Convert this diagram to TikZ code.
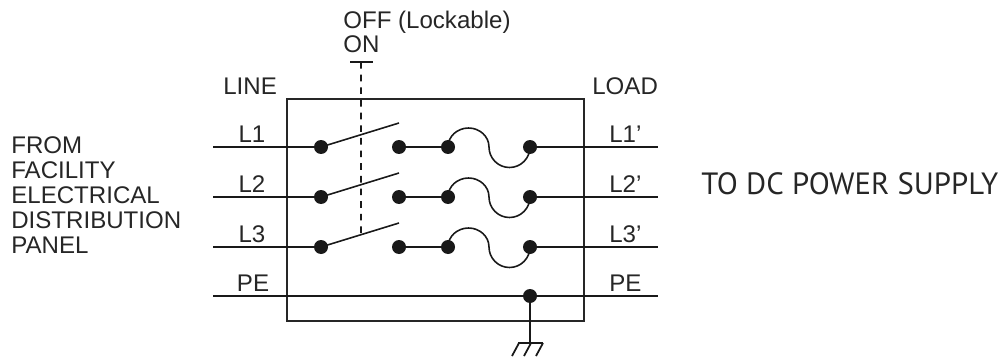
\documentclass[tikz,border=0pt]{standalone}
\usepackage{fontspec}
\setmainfont{Liberation Sans}
\newfontfamily\ptsans{PT Sans}
\usetikzlibrary{calc}
\begin{document}
\begin{tikzpicture}[x=0.02cm,y=0.02cm,
  lbl/.style={font=\fontsize{13.7}{16}\selectfont, inner sep=0pt, text=black!85},
  wire/.style={line width=1.1pt, black!90},
  thin/.style={line width=0.6pt, black!85},
  blade/.style={line width=0.9pt, black!90},
  dot/.style={circle, fill=black!90, inner sep=0pt, minimum size=0.28cm},
  lock/.style={line width=0.9pt, black!90, dash pattern=on 3.8pt off 3.4pt}]
\useasboundingbox (0,0) rectangle (1000,359);
% enclosure
\draw[thin] (287,38) rectangle (584,260);
% header labels
\node[lbl, anchor=base west] (off) at (343,330) {OFF (Lockable)};
\node[lbl, anchor=base west] (on) at (343,306) {ON};
\node[lbl, anchor=base west] (line) at (223,265) {LINE};
\node[lbl, anchor=base west] (load) at (592,265) {LOAD};
% left description
\node[lbl, anchor=base west] (t1) at (11,206) {FROM};
\node[lbl, anchor=base west] (t2) at (11,181) {FACILITY};
\node[lbl, anchor=base west] (t3) at (11,156) {ELECTRICAL};
\node[lbl, anchor=base west] (t4) at (11,131) {DISTRIBUTION};
\node[lbl, anchor=base west] (t5) at (11,106) {PANEL};
% right description
\node[inner sep=0pt, anchor=base west, text=black!85, font=\ptsans\fontsize{17.5}{20}\selectfont] (to) at (701,165) {TO DC POWER SUPPLY};
% phases
\foreach \i/\y in {1/212,2/162,3/112}{
  \coordinate (w\i a) at (213,\y);
  \coordinate (w\i b) at (658,\y);
  \node[dot] (s\i a) at (321,\y) {};
  \coordinate (s\i e) at (399,\y+24);
  \node[dot] (s\i b) at (399,\y) {};
  \node[dot] (f\i a) at (448,\y) {};
  \node[dot] (f\i b) at (530,\y) {};
  \draw[wire] (w\i a) -- (s\i a.center);
  \draw[blade] (s\i a.center) -- (s\i e);
  \draw[wire] (s\i b.center) -- (f\i a.center);
  \draw[blade] (f\i a.center) arc[start angle=180, end angle=0, x radius=0.41cm, y radius=0.38cm]
                arc[start angle=180, end angle=360, x radius=0.41cm, y radius=0.41cm];
  \draw[wire] (f\i b.center) -- (w\i b);
  \node[lbl, anchor=base] (ll\i) at (252,\y+5) {L\i};
  \node[lbl, anchor=base west] (lr\i) at (609,\y+5) {L\i’};
}
% protective earth
\coordinate (pea) at (213,63);
\coordinate (peb) at (658,63);
\node[dot] (ped) at (530,63) {};
\draw[wire] (pea) -- (peb);
\node[lbl, anchor=base] (pel) at (253,68) {PE};
\node[lbl, anchor=base west] (per) at (609,68) {PE};
% ground
\coordinate (g) at (530,16);
\draw[wire] (ped.center) -- (g);
\draw[line width=1pt, black!90] (518,16) -- (543,16);
\foreach \gx in {519,531,543}{
  \draw[line width=1pt, black!90] (\gx,16) -- (\gx-7,3);
}
% mechanical lock linkage
\coordinate (lk) at (361,297);
\draw[line width=1pt, black!90] (350,297) -- (373,297);
\draw[lock] (lk) -- ($(s3a.center)!0.513!(s3e)$);
\end{tikzpicture}
\end{document}
